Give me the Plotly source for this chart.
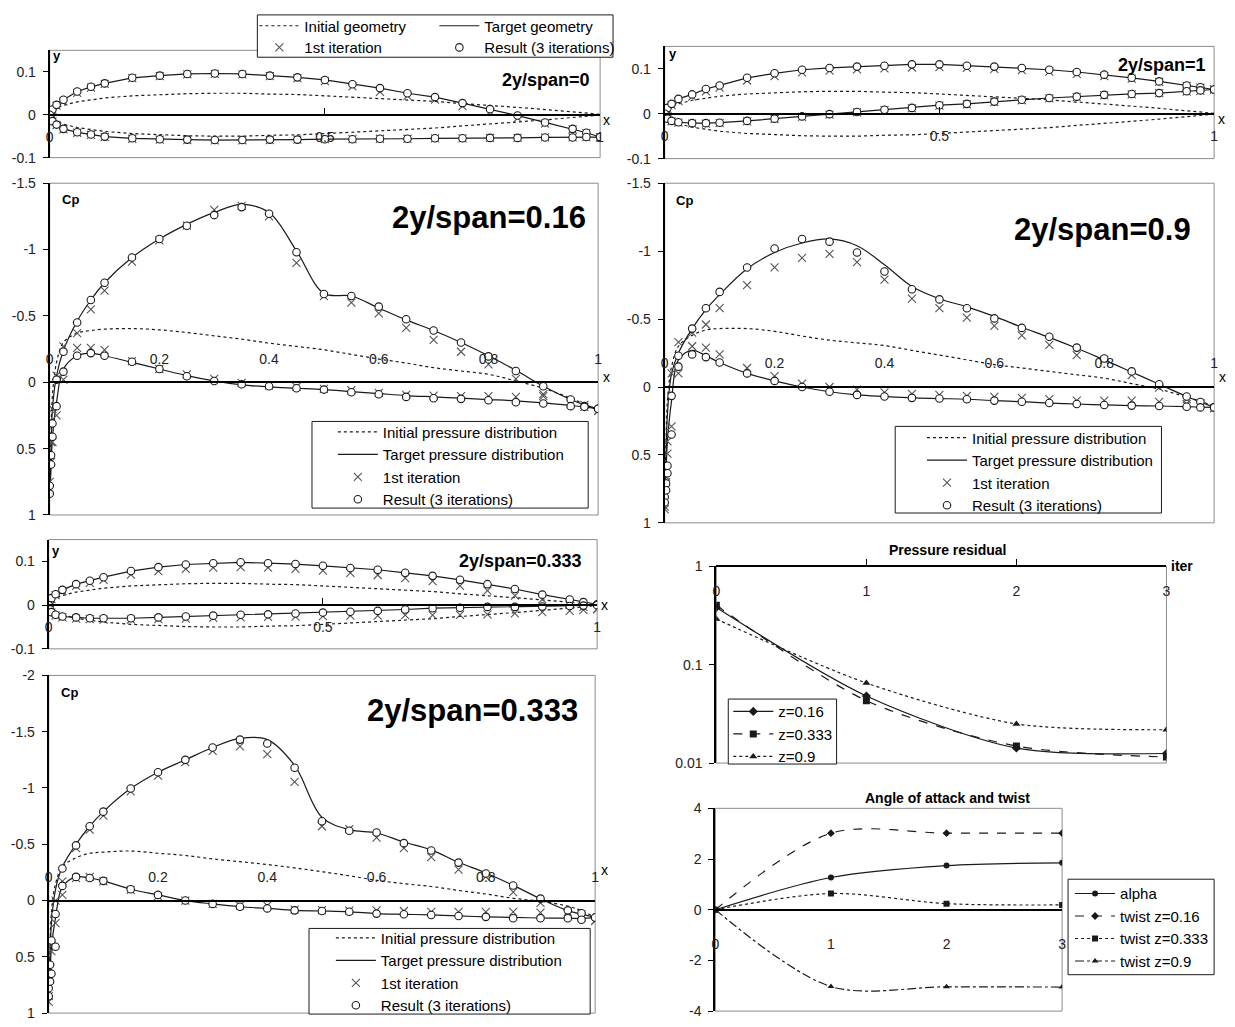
import plotly.graph_objects as go

# ---------------- chordwise stations (x/c) ----------------
XS = [0, 0.0025, 0.005, 0.0125, 0.025, 0.05, 0.075, 0.1, 0.15, 0.2, 0.25, 0.3, 0.35, 0.4,
      0.45, 0.5, 0.55, 0.6, 0.65, 0.7, 0.75, 0.8, 0.85, 0.9, 0.95, 0.975, 1.0]

# ---------------- section geometry (y/c) ----------------
INIT_GEOM_UP = [0.0, 0.007, 0.010, 0.016, 0.022, 0.030, 0.035, 0.039, 0.044, 0.047, 0.049, 0.050, 0.050, 0.048,
                0.047, 0.044, 0.041, 0.038, 0.035, 0.031, 0.026, 0.022, 0.017, 0.012, 0.007, 0.004, 0.001]
INIT_GEOM_LO = [0.0, -0.007, -0.010, -0.016, -0.022, -0.030, -0.035, -0.039, -0.044, -0.047, -0.049, -0.050, -0.050, -0.048,
                -0.047, -0.044, -0.041, -0.038, -0.035, -0.031, -0.026, -0.022, -0.017, -0.012, -0.007, -0.004, -0.001]

G0_UP = [0.0, 0.008, 0.012, 0.023, 0.035, 0.054, 0.065, 0.073, 0.086, 0.091, 0.095, 0.096, 0.095, 0.091,
         0.087, 0.081, 0.071, 0.062, 0.050, 0.041, 0.027, 0.013, -0.002, -0.018, -0.033, -0.042, -0.052]
G0_LO = [0.0, -0.010, -0.015, -0.023, -0.033, -0.041, -0.046, -0.051, -0.055, -0.057, -0.058, -0.059, -0.059, -0.058,
         -0.058, -0.057, -0.057, -0.056, -0.056, -0.055, -0.055, -0.054, -0.054, -0.053, -0.053, -0.052, -0.052]
G0_IT_UP = [0.0, 0.007, 0.011, 0.021, 0.031, 0.051, 0.063, 0.072, 0.085, 0.090, 0.094, 0.095, 0.094, 0.090,
            0.085, 0.078, 0.066, 0.053, 0.044, 0.035, 0.020, 0.007, -0.008, -0.021, -0.034, -0.043, -0.053]
G0_IT_LO = [0.0, -0.011, -0.016, -0.024, -0.034, -0.042, -0.047, -0.052, -0.056, -0.058, -0.059, -0.060, -0.060, -0.059,
            -0.058, -0.057, -0.057, -0.056, -0.056, -0.055, -0.055, -0.054, -0.054, -0.053, -0.053, -0.052, -0.053]

G333_UP = [0.0, 0.010, 0.016, 0.025, 0.035, 0.048, 0.056, 0.064, 0.078, 0.087, 0.093, 0.096, 0.098, 0.096,
           0.094, 0.090, 0.085, 0.081, 0.074, 0.067, 0.058, 0.048, 0.037, 0.024, 0.013, 0.007, 0.002]
G333_LO = [0.0, -0.010, -0.016, -0.022, -0.026, -0.028, -0.030, -0.030, -0.030, -0.028, -0.026, -0.024, -0.022, -0.021,
           -0.019, -0.017, -0.015, -0.013, -0.010, -0.007, -0.006, -0.004, -0.004, -0.003, -0.002, -0.001, 0.0]
G333_IT_UP = [0.0, 0.009, 0.014, 0.023, 0.032, 0.044, 0.051, 0.058, 0.070, 0.078, 0.083, 0.086, 0.087, 0.086,
              0.083, 0.079, 0.074, 0.069, 0.062, 0.055, 0.044, 0.033, 0.022, 0.013, 0.002, -0.004, -0.009]
G333_IT_LO = [0.0, -0.011, -0.017, -0.024, -0.028, -0.031, -0.032, -0.033, -0.033, -0.032, -0.031, -0.029, -0.028, -0.027,
              -0.026, -0.025, -0.024, -0.024, -0.023, -0.023, -0.022, -0.021, -0.019, -0.016, -0.013, -0.011, -0.009]

G1_UP = [0.0, 0.007, 0.013, 0.022, 0.033, 0.043, 0.055, 0.063, 0.080, 0.090, 0.098, 0.102, 0.105, 0.107,
         0.110, 0.110, 0.107, 0.105, 0.102, 0.098, 0.093, 0.087, 0.080, 0.072, 0.063, 0.059, 0.054]
G1_LO = [0.0, -0.008, -0.011, -0.016, -0.019, -0.021, -0.021, -0.020, -0.016, -0.011, -0.006, -0.001, 0.004, 0.009,
         0.013, 0.019, 0.022, 0.027, 0.031, 0.035, 0.038, 0.042, 0.044, 0.046, 0.050, 0.052, 0.054]
G1_IT_UP = [0.0, 0.006, 0.011, 0.019, 0.028, 0.038, 0.050, 0.058, 0.074, 0.084, 0.092, 0.096, 0.099, 0.101,
            0.103, 0.104, 0.102, 0.100, 0.097, 0.094, 0.089, 0.084, 0.078, 0.071, 0.062, 0.058, 0.054]
G1_IT_LO = [0.0, -0.009, -0.012, -0.017, -0.020, -0.022, -0.022, -0.021, -0.017, -0.012, -0.007, -0.002, 0.003, 0.008,
            0.012, 0.018, 0.021, 0.026, 0.030, 0.034, 0.037, 0.041, 0.043, 0.046, 0.049, 0.051, 0.053]

# ---------------- pressure coefficient, 2y/span = 0.16 ----------------
CP16_INIT_UP = [0.85, 0.4, 0.1, -0.15, -0.3, -0.37, -0.39, -0.4, -0.405, -0.395, -0.375, -0.35, -0.325, -0.295,
                -0.27, -0.245, -0.21, -0.175, -0.145, -0.11, -0.085, -0.06, -0.01, 0.045, 0.12, 0.165, 0.215]
CP16_TGT_UP = [0.85, 0.5, 0.2, -0.05, -0.24, -0.46, -0.62, -0.75, -0.94, -1.08, -1.19, -1.28, -1.34, -1.28,
               -0.99, -0.67, -0.65, -0.56, -0.47, -0.39, -0.3, -0.2, -0.09, 0.03, 0.13, 0.17, 0.2]
CP16_TGT_LO = [0.85, 0.65, 0.42, 0.15, -0.1, -0.2, -0.22, -0.2, -0.15, -0.1, -0.05, -0.01, 0.02, 0.035,
               0.045, 0.055, 0.07, 0.085, 0.1, 0.11, 0.12, 0.13, 0.14, 0.155, 0.175, 0.185, 0.2]
CP16_IT_UP = [0.75, 0.45, 0.2, -0.05, -0.27, -0.37, -0.55, -0.69, -0.91, -1.07, -1.18, -1.3, -1.33, -1.25,
              -0.9, -0.65, -0.6, -0.52, -0.41, -0.32, -0.23, -0.135, -0.025, 0.09, 0.16, 0.185, 0.215]
CP16_IT_LO = [0.8, 0.6, 0.45, 0.25, -0.02, -0.26, -0.26, -0.245, -0.16, -0.1, -0.06, -0.025, 0.005, 0.025,
              0.035, 0.05, 0.06, 0.08, 0.095, 0.1, 0.105, 0.105, 0.11, 0.105, 0.15, 0.17, 0.215]
CP16_RES_UP = [0.84, 0.55, 0.31, -0.02, -0.23, -0.45, -0.62, -0.75, -0.94, -1.08, -1.18, -1.26, -1.32, -1.27,
               -0.98, -0.665, -0.65, -0.57, -0.475, -0.39, -0.3, -0.195, -0.085, 0.03, 0.13, 0.18, 0.2]
CP16_RES_LO = [0.78, 0.62, 0.41, 0.18, -0.08, -0.2, -0.22, -0.2, -0.155, -0.1, -0.045, -0.01, 0.015, 0.03,
               0.045, 0.055, 0.075, 0.09, 0.11, 0.12, 0.125, 0.135, 0.15, 0.16, 0.18, 0.185, 0.2]

# ---------------- pressure coefficient, 2y/span = 0.9 ----------------
CP09_INIT_UP = [0.85, 0.4, 0.1, -0.15, -0.3, -0.38, -0.42, -0.43, -0.43, -0.41, -0.375, -0.345, -0.325, -0.305,
                -0.27, -0.235, -0.2, -0.165, -0.14, -0.115, -0.09, -0.065, -0.025, 0.015, 0.075, 0.105, 0.14]
CP09_TGT_UP = [0.85, 0.5, 0.2, -0.1, -0.25, -0.43, -0.57, -0.68, -0.87, -0.99, -1.06, -1.09, -1.04, -0.9,
               -0.74, -0.65, -0.59, -0.52, -0.44, -0.365, -0.285, -0.2, -0.11, -0.02, 0.07, 0.11, 0.15]
CP09_TGT_LO = [0.85, 0.62, 0.4, 0.1, -0.2, -0.27, -0.23, -0.18, -0.1, -0.045, 0.0, 0.035, 0.058, 0.07,
               0.08, 0.085, 0.09, 0.1, 0.108, 0.118, 0.125, 0.132, 0.137, 0.14, 0.145, 0.148, 0.15]
CP09_IT_UP = [0.88, 0.66, 0.4, -0.1, -0.33, -0.4, -0.46, -0.58, -0.75, -0.88, -0.95, -0.98, -0.92, -0.79,
              -0.65, -0.58, -0.51, -0.45, -0.38, -0.31, -0.235, -0.2, -0.087, 0.005, 0.09, 0.125, 0.155]
CP09_IT_LO = [0.9, 0.7, 0.49, 0.29, -0.1, -0.3, -0.29, -0.24, -0.14, -0.08, -0.025, 0.0, 0.02, 0.04,
              0.05, 0.058, 0.065, 0.072, 0.08, 0.09, 0.1, 0.1, 0.1, 0.11, 0.125, 0.118, 0.155]
CP09_RES_UP = [0.81, 0.71, 0.58, 0.065, -0.23, -0.43, -0.58, -0.7, -0.88, -1.02, -1.09, -1.07, -0.99, -0.85,
               -0.72, -0.645, -0.58, -0.505, -0.435, -0.37, -0.29, -0.21, -0.115, -0.02, 0.07, 0.11, 0.15]
CP09_RES_LO = [0.85, 0.76, 0.635, 0.35, -0.15, -0.24, -0.22, -0.18, -0.1, -0.045, 0.0, 0.035, 0.058, 0.07,
               0.08, 0.085, 0.09, 0.1, 0.108, 0.118, 0.125, 0.132, 0.137, 0.14, 0.145, 0.15, 0.15]

# ---------------- pressure coefficient, 2y/span = 0.333 ----------------
CP333_INIT_UP = [0.85, 0.4, 0.1, -0.15, -0.3, -0.38, -0.42, -0.43, -0.44, -0.42, -0.4, -0.37, -0.345, -0.32,
                 -0.29, -0.256, -0.22, -0.18, -0.15, -0.125, -0.09, -0.058, -0.02, 0.006, 0.05, 0.09, 0.15]
CP333_TGT_UP = [0.85, 0.5, 0.2, -0.1, -0.3, -0.5, -0.66, -0.79, -0.995, -1.14, -1.25, -1.36, -1.44, -1.43,
                -1.2, -0.74, -0.63, -0.6, -0.52, -0.45, -0.34, -0.245, -0.135, -0.015, 0.09, 0.12, 0.15]
CP333_TGT_LO = [0.85, 0.65, 0.42, 0.15, -0.12, -0.21, -0.2, -0.175, -0.1, -0.05, 0.0, 0.03, 0.055, 0.07,
                0.087, 0.093, 0.1, 0.116, 0.122, 0.128, 0.137, 0.145, 0.15, 0.155, 0.157, 0.16, 0.15]
CP333_IT_UP = [0.85, 0.6, 0.4, 0.0, -0.17, -0.465, -0.63, -0.755, -0.97, -1.11, -1.23, -1.33, -1.37, -1.3,
               -1.055, -0.66, -0.635, -0.56, -0.465, -0.385, -0.275, -0.21, -0.075, 0.02, 0.1, 0.12, 0.18]
CP333_IT_LO = [0.9, 0.7, 0.45, 0.2, -0.05, -0.2, -0.21, -0.17, -0.095, -0.04, 0.0, 0.03, 0.045, 0.045,
               0.08, 0.085, 0.09, 0.087, 0.093, 0.1, 0.1, 0.1, 0.1, 0.107, 0.116, 0.15, 0.18]
CP333_RES_UP = [0.78, 0.57, 0.355, 0.12, -0.285, -0.49, -0.66, -0.79, -0.995, -1.14, -1.25, -1.36, -1.43, -1.395,
                -1.18, -0.705, -0.62, -0.605, -0.51, -0.445, -0.337, -0.24, -0.134, -0.017, 0.087, 0.113, 0.15]
CP333_RES_LO = [0.85, 0.72, 0.65, 0.41, -0.13, -0.21, -0.2, -0.175, -0.1, -0.05, 0.0, 0.03, 0.055, 0.07,
                0.087, 0.093, 0.1, 0.116, 0.122, 0.128, 0.137, 0.145, 0.157, 0.157, 0.157, 0.17, 0.15]

# ---------------- convergence history ----------------
ITER = [0, 1, 2, 3]
RESID_Z016 = [0.38, 0.048, 0.0142, 0.0125]
RESID_Z0333 = [0.40, 0.043, 0.0149, 0.0115]
RESID_Z09 = [0.29, 0.065, 0.025, 0.0218]

ALPHA = [0, 1.27, 1.74, 1.85]
TWIST_Z016 = [0, 3.02, 3.02, 3.02]
TWIST_Z0333 = [0, 0.64, 0.24, 0.19]
TWIST_Z09 = [0, -3.03, -3.04, -3.05]

# ---------------- tick values ----------------
GEOM_YTICKS = [-0.1, 0, 0.1]
GEOM_XTICKS = [0, 0.5, 1]
CP_XTICKS = [0, 0.2, 0.4, 0.6, 0.8, 1]
CP_YTICKS_15 = [-1.5, -1, -0.5, 0, 0.5, 1]
CP_YTICKS_20 = [-2, -1.5, -1, -0.5, 0, 0.5, 1]
RESID_YTICKS = [0.01, 0.1, 1]
ITER_TICKS = [0, 1, 2, 3]
ANGLE_YTICKS = [-4, -2, 0, 2, 4]

# ---------------- page geometry ----------------
W, H = 1235, 1027
FONT = "Liberation Sans, Arial, Helvetica, sans-serif"
INK = "#1a1a1a"
MARK = "#555555"
FRAME = "#8c8c8c"


def px_x(p):
    return p / W


def px_y(p):
    return 1 - p / H


def fmt(v):
    return f"{v:g}"


fig = go.Figure()


def axis_ids(n):
    return ("x", "y") if n == 1 else (f"x{n}", f"y{n}")


def surface(up, lo):
    return XS + [None] + XS, list(up) + [None] + list(lo)


def add_series(n, xs, ys, name, kind, legend=None, shape="linear"):
    ax, ay = axis_ids(n)
    common = dict(x=xs, y=ys, xaxis=ax, yaxis=ay, name=name, hoverinfo="skip",
                  showlegend=legend is not None, legend=legend or "legend")
    if kind == "initial":
        tr = go.Scatter(mode="lines", line=dict(color=INK, width=1.2, dash="dot", shape=shape), **common)
    elif kind == "target":
        tr = go.Scatter(mode="lines", line=dict(color=INK, width=1.2, shape=shape), **common)
    elif kind == "first":
        tr = go.Scatter(mode="markers",
                        marker=dict(symbol="x-thin-open", size=8, color=MARK, line=dict(width=1.1, color=MARK)),
                        **common)
    else:
        tr = go.Scatter(mode="markers",
                        marker=dict(symbol="circle", size=7.5, color="white", line=dict(width=1.1, color=INK)),
                        **common)
    fig.add_trace(tr)


def setup_axes(n, xdom, ydom, yrange, yticks, xticks, xrange=(0, 1), xside="bottom",
               ylog=False, xtickmarks="", standoff=9):
    key = "" if n == 1 else str(n)
    l, r = xdom
    t, b = ydom
    yd = [px_y(b), px_y(t)]
    if ylog:
        pos = yd[1]
    else:
        r0, r1 = yrange
        pos = yd[0] + (0 - r0) / (r1 - r0) * (yd[1] - yd[0])
    tickfont = dict(family=FONT, size=14, color="#222222")
    fig.update_layout(**{
        f"xaxis{key}": dict(domain=[px_x(l), px_x(r)], range=list(xrange), anchor="free", position=pos,
                            side=xside, showline=True, linecolor="black", linewidth=2,
                            tickvals=xticks, ticktext=[fmt(v) for v in xticks], ticks=xtickmarks,
                            ticklen=6, tickcolor="black", ticklabelstandoff=standoff,
                            showgrid=False, zeroline=False, tickfont=tickfont, fixedrange=True),
        f"yaxis{key}": dict(domain=yd, range=yrange, anchor=f"x{key}", type="log" if ylog else "linear",
                            showline=True, linecolor="black", linewidth=2, ticks="outside", ticklen=5,
                            tickcolor="black", tickvals=yticks, ticktext=[fmt(v) for v in yticks],
                            ticklabelstandoff=4,
                            showgrid=False, zeroline=False, tickfont=tickfont, fixedrange=True),
    })
    fig.add_shape(type="rect", xref="paper", yref="paper", x0=px_x(l), x1=px_x(r), y0=yd[0], y1=yd[1],
                  line=dict(color=FRAME, width=1), layer="below")


# ---------------- geometry panels ----------------
def geometry_panel(n, up, lo, it_up, it_lo, with_legend):
    xs, ys = surface(INIT_GEOM_UP, INIT_GEOM_LO)
    add_series(n, xs, ys, "Initial geometry", "initial", "legend4" if with_legend else None)
    xs, ys = surface(up, lo)
    add_series(n, xs, ys, "Target geometry", "target", "legend4" if with_legend else None)
    xs, ys = surface(it_up, it_lo)
    add_series(n, xs, ys, "1st iteration", "first", "legend5" if with_legend else None)
    xs, ys = surface(up, lo)
    add_series(n, xs, ys, "Result (3 iterations)", "result", "legend5" if with_legend else None)


geometry_panel(1, G0_UP, G0_LO, G0_IT_UP, G0_IT_LO, True)
geometry_panel(3, G333_UP, G333_LO, G333_IT_UP, G333_IT_LO, False)
geometry_panel(5, G1_UP, G1_LO, G1_IT_UP, G1_IT_LO, False)


# ---------------- pressure panels ----------------
def pressure_panel(n, init_up, tgt_up, tgt_lo, it_up, it_lo, res_up, res_lo, legend):
    add_series(n, XS, init_up, "Initial pressure distribution", "initial", legend, shape="spline")
    xs, ys = surface(tgt_up, tgt_lo)
    add_series(n, xs, ys, "Target pressure distribution", "target", legend, shape="spline")
    xs, ys = surface(it_up, it_lo)
    add_series(n, xs, ys, "1st iteration", "first", legend)
    xs, ys = surface(res_up, res_lo)
    add_series(n, xs, ys, "Result (3 iterations)", "result", legend)


pressure_panel(2, CP16_INIT_UP, CP16_TGT_UP, CP16_TGT_LO, CP16_IT_UP, CP16_IT_LO,
               CP16_RES_UP, CP16_RES_LO, "legend")
pressure_panel(6, CP09_INIT_UP, CP09_TGT_UP, CP09_TGT_LO, CP09_IT_UP, CP09_IT_LO,
               CP09_RES_UP, CP09_RES_LO, "legend2")
pressure_panel(4, CP333_INIT_UP, CP333_TGT_UP, CP333_TGT_LO, CP333_IT_UP, CP333_IT_LO,
               CP333_RES_UP, CP333_RES_LO, "legend3")

# ---------------- residual history (log scale) ----------------
for name, vals, dash, sym in [("z=0.16", RESID_Z016, "solid", "diamond"),
                              ("z=0.333", RESID_Z0333, "dash", "square"),
                              ("z=0.9", RESID_Z09, "dot", "triangle-up")]:
    fig.add_trace(go.Scatter(x=ITER, y=vals, xaxis="x7", yaxis="y7", name=name, legend="legend6",
                             mode="lines+markers", hoverinfo="skip",
                             line=dict(color=INK, width=1.2, dash=dash, shape="spline", smoothing=0.8),
                             marker=dict(symbol=sym, size=7, color=INK)))

# ---------------- angle of attack and twist ----------------
for name, vals, dash, sym in [("alpha", ALPHA, "solid", "circle"),
                              ("twist z=0.16", TWIST_Z016, "dash", "diamond"),
                              ("twist z=0.333", TWIST_Z0333, "dot", "square"),
                              ("twist z=0.9", TWIST_Z09, "dashdot", "triangle-up")]:
    fig.add_trace(go.Scatter(x=ITER, y=vals, xaxis="x8", yaxis="y8", name=name, legend="legend7",
                             mode="lines+markers", hoverinfo="skip",
                             line=dict(color=INK, width=1.2, dash=dash, shape="spline", smoothing=0.9),
                             marker=dict(symbol=sym, size=6, color=INK)))

# ---------------- axes ----------------
setup_axes(1, (46, 600), (43, 152), [-0.1, 0.15], GEOM_YTICKS, GEOM_XTICKS, xtickmarks="inside")
setup_axes(5, (665, 1218), (39, 153), [-0.1, 0.15], GEOM_YTICKS, GEOM_XTICKS, xtickmarks="inside")
setup_axes(3, (45, 597), (540, 651), [-0.1, 0.15], GEOM_YTICKS, GEOM_XTICKS, xtickmarks="inside")
setup_axes(2, (46, 598), (178, 515), [1, -1.5], CP_YTICKS_15, CP_XTICKS, xside="top", standoff=12)
setup_axes(6, (665, 1218), (178, 523), [1, -1.5], CP_YTICKS_15, CP_XTICKS, xside="top", standoff=12)
setup_axes(4, (45, 595), (678, 1021), [1, -2], CP_YTICKS_20, CP_XTICKS, xside="top", standoff=12)
setup_axes(7, (717, 1170), (567, 767), [-2, 0], RESID_YTICKS, ITER_TICKS, xrange=(0, 3),
           ylog=True, xtickmarks="inside", standoff=12)
setup_axes(8, (716, 1065), (813, 1019), [-4, 4], ANGLE_YTICKS, ITER_TICKS, xrange=(0, 3), standoff=21)


# ---------------- text labels ----------------
def label(text, x, y, size=14, bold=False, xanchor="center"):
    fig.add_annotation(text=f"<b>{text}</b>" if bold else text, x=px_x(x), y=px_y(y),
                       xref="paper", yref="paper", showarrow=False, xanchor=xanchor, yanchor="middle",
                       font=dict(family=FONT, size=size, color="black"))


label("2y/span=0", 546, 73, 18, True)
label("2y/span=1", 1166, 58, 18, True)
label("2y/span=0.333", 520, 562, 18, True)
label("2y/span=0.16", 488, 213, 31, True)
label("2y/span=0.9", 1106, 225, 31, True)
label("2y/span=0.333", 472, 714, 31, True)
for x, y in [(53, 48), (673, 46), (52, 551)]:
    label("y", x, y, 13, True)
for x, y in [(606, 114), (1225, 113), (604, 606), (606, 375), (1226, 375), (604, 876)]:
    label("x", x, y, 14)
for x, y in [(67, 195), (685, 196), (66, 695)]:
    label("Cp", x, y, 13, True)
label("Pressure residual", 950, 551, 14, True)
label("iter", 1186, 567, 14, True)
label("Angle of attack and twist", 950, 803, 14, True)


# legend frames (white boxes with a thin border; the legend entries sit on top)
def legend_box(l, t, r, b):
    fig.add_shape(type="rect", xref="paper", yref="paper", x0=px_x(l), x1=px_x(r),
                  y0=px_y(b), y1=px_y(t), line=dict(color=INK, width=1), fillcolor="white", layer="above")


legend_box(255, 7, 613, 50)
legend_box(310, 420, 588, 508)
legend_box(897, 425, 1165, 513)
legend_box(307, 935, 590, 1022)
legend_box(729, 702, 838, 768)
legend_box(1071, 885, 1218, 982)

leg_font = dict(family=FONT, size=15, color="black")
col = dict(bgcolor="rgba(0,0,0,0)", borderwidth=0, font=leg_font, itemwidth=40,
           xanchor="left", yanchor="top", tracegroupgap=0)
row = dict(bgcolor="rgba(0,0,0,0)", borderwidth=0, font=leg_font, itemwidth=40, orientation="h",
           xanchor="left", yanchor="top", entrywidth=125)

fig.update_layout(
    width=W, height=H, margin=dict(l=0, r=0, t=0, b=0),
    paper_bgcolor="white", plot_bgcolor="rgba(0,0,0,0)",
    font=dict(family=FONT, size=14, color="black"),
    legend=dict(x=px_x(331), y=px_y(414), **col),
    legend2=dict(x=px_x(924), y=px_y(420), **col),
    legend3=dict(x=px_x(329), y=px_y(928), **col),
    legend4=dict(x=px_x(252), y=px_y(1.5), **row),
    legend5=dict(x=px_x(252), y=px_y(23.5), **row),
    legend6=dict(x=px_x(729), y=px_y(698), **col),
    legend7=dict(x=px_x(1073), y=px_y(883), **col),
)

fig.write_html("out.html")
